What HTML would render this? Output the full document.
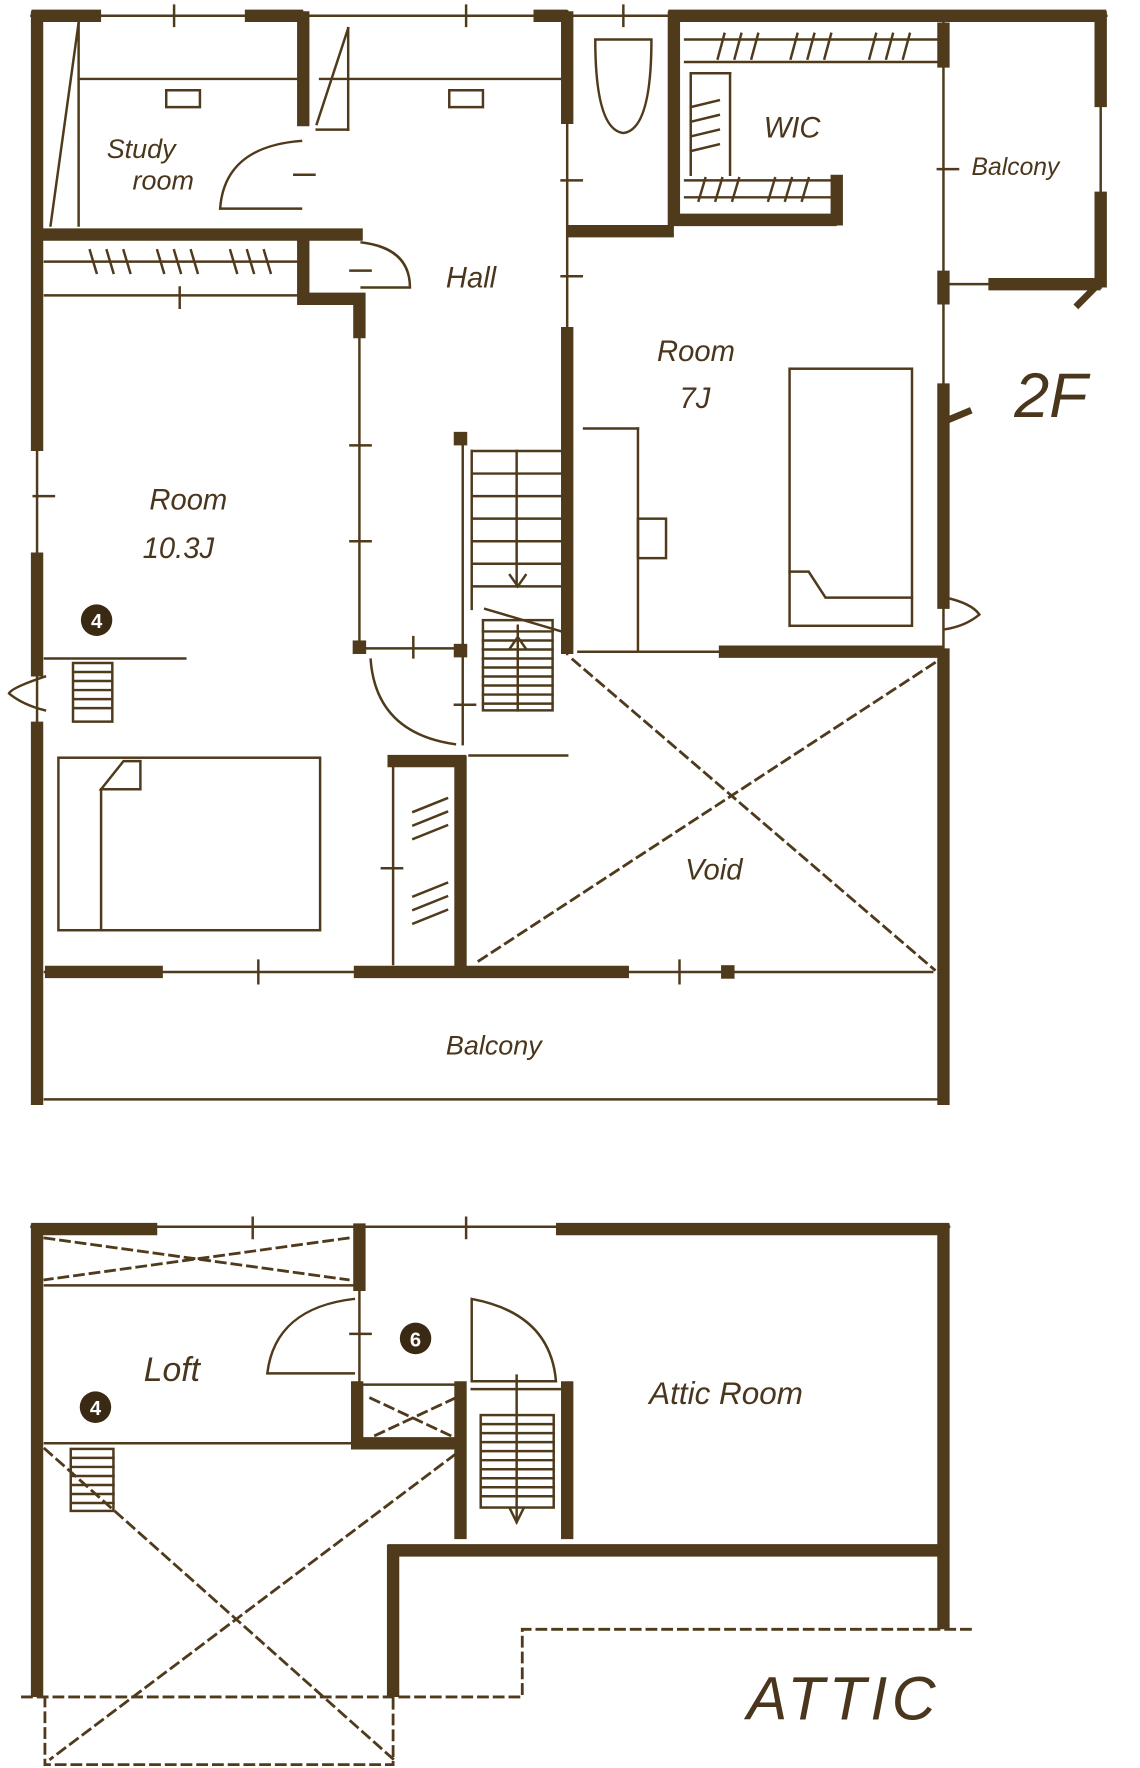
<!DOCTYPE html>
<html><head><meta charset="utf-8"><style>
html,body{margin:0;padding:0;background:#fff;width:1140px;height:1768px;overflow:hidden}
svg{display:block}
text{font-family:"Liberation Sans",sans-serif;font-style:italic;fill:#4a361c}
</style></head><body>
<svg width="1140" height="1768" viewBox="0 0 1015 1568" preserveAspectRatio="none" xmlns="http://www.w3.org/2000/svg">
<g stroke="#4f3a1c" fill="none" stroke-linecap="square">
<g stroke-width="2.2">
<line x1="28" y1="14" x2="985" y2="14"/>
<line x1="840" y1="14" x2="840" y2="575"/>
<line x1="980" y1="14" x2="980" y2="255"/>
<line x1="840" y1="252" x2="980" y2="252"/>
<line x1="33" y1="395" x2="33" y2="495"/>
<line x1="33" y1="595" x2="33" y2="645"/>
<line x1="40" y1="975" x2="840" y2="975"/>
<line x1="40" y1="862" x2="830" y2="862"/>
<line x1="320" y1="265" x2="320" y2="575"/>
<line x1="320" y1="575" x2="410" y2="575"/>
<line x1="505" y1="10" x2="505" y2="580"/>
<line x1="515" y1="578" x2="640" y2="578"/>
<line x1="40" y1="262" x2="270" y2="262"/>
<line x1="40" y1="232" x2="270" y2="232"/>
<line x1="70" y1="70" x2="270" y2="70"/>
<line x1="285" y1="70" x2="500" y2="70"/>
<line x1="70" y1="20" x2="70" y2="200"/>
<line x1="70" y1="20" x2="45" y2="200"/>
<line x1="310" y1="25" x2="310" y2="115"/><line x1="310" y1="25" x2="282" y2="110"/><line x1="282" y1="115" x2="310" y2="115"/>
<line x1="610" y1="35" x2="835" y2="35"/><line x1="610" y1="55" x2="835" y2="55"/>
<line x1="610" y1="160" x2="740" y2="160"/><line x1="610" y1="175" x2="740" y2="175"/>
<line x1="615" y1="65" x2="615" y2="155"/><line x1="650" y1="65" x2="650" y2="155"/><line x1="615" y1="65" x2="650" y2="65"/>
<line x1="412" y1="390" x2="412" y2="660"/>
<line x1="420" y1="400" x2="500" y2="400"/>
<line x1="420" y1="400" x2="420" y2="540"/>
<line x1="460" y1="400" x2="460" y2="520"/>
<line x1="418" y1="670" x2="505" y2="670"/>
<line x1="432" y1="540" x2="500" y2="560"/>
<rect x="430" y="550" width="62" height="80"/>
<line x1="350" y1="680" x2="350" y2="855"/>
<line x1="520" y1="380" x2="568" y2="380"/><line x1="568" y1="380" x2="568" y2="578"/>
<rect x="568" y="460" width="25" height="35"/>
<rect x="52" y="672" width="233" height="153"/>
<line x1="90" y1="700" x2="90" y2="825"/>
<path d="M90 700 L110 675 L125 675 L125 700 Z"/>
<rect x="703" y="327" width="109" height="228"/>
<path d="M703 507 L720 507 L735 530 L812 530"/>
<line x1="40" y1="584" x2="165" y2="584"/>
<rect x="65" y="588" width="35" height="52"/>
<path d="M155 5v18M415 5v18M555 5v18M160 255v18M30 440h18M312 240h18M312 395h18M312 480h18M368 565v18M405 625h18M262 155h18M500 160h18M500 245h18M835 150h18M230 852v20M605 852v20M340 770h18"/>
<path d="M268 125 Q200 130 196 185 L268 185"/>
<path d="M322 215 Q365 220 365 255 L322 255"/>
<path d="M330 585 Q335 650 405 660"/>
<path d="M40 600 Q10 610 8 615 Q20 625 40 630"/>
<path d="M842 530 Q865 535 872 545 Q860 555 842 558"/>
<path d="M530 35 Q530 115 555 118 Q580 115 580 35 Z"/>
<path d="M80 222l6 20M95 222l6 20M110 222l6 20M140 222l6 20M155 222l6 20M170 222l6 20M205 222l6 20M220 222l6 20M235 222l6 20"/>
<path d="M645 30l-6 22M660 30l-6 22M675 30l-6 22M710 30l-6 22M725 30l-6 22M740 30l-6 22M780 30l-6 22M795 30l-6 22M810 30l-6 22"/>
<path d="M628 158l-6 20M643 158l-6 20M658 158l-6 20M690 158l-6 20M705 158l-6 20M720 158l-6 20"/>
<path d="M615 95l25-6M615 108l25-6M615 121l25-6M615 134l25-6"/>
<path d="M368 720l30-12M368 732l30-12M368 744l30-12M368 795l30-12M368 807l30-12M368 819l30-12"/>
<path d="M420 420h80M420 440h80M420 460h80M420 480h80M420 500h80M420 520h80"/>
<path d="M430 560h62M430 568h62M430 576h62M430 584h62M430 592h62M430 600h62M430 608h62M430 616h62M430 624h62"/>
<path d="M461 555v75M454 575l7-10 7 10M454 510l7 10 7-10"/>
<path d="M66 596h34M66 604h34M66 612h34M66 620h34M66 628h34"/>
<path d="M148 80h30v15h-30zM400 80h30v15h-30z"/>
</g>
<path d="M845 372 L862 365" stroke-width="6"/>
<path d="M960 270 L975 255" stroke-width="6"/>
<g stroke-width="11" stroke-linecap="butt">
<path d="M28 14h62M218 14h52M475 14h30M595 14h390"/>
<path d="M33 10v390M33 490v110M33 640v340"/>
<path d="M980 10v85M980 170v85M880 252h100"/>
<path d="M840 575v405M840 340v200M840 20v40M840 240v30"/>
<path d="M40 862h105M315 862h245"/>
<path d="M33 208h290M270 10v102M270 208v57h50v35"/>
<path d="M505 10v100M505 290v290M505 205h95M600 10v190M600 195h145M745 155v45"/>
<path d="M410 670v190M345 675h70"/>
<path d="M640 578h200"/>
</g>
<rect x="404" y="383" width="12" height="12" fill="#4f3a1c" stroke="none"/>
<rect x="314" y="568" width="12" height="12" fill="#4f3a1c" stroke="none"/>
<rect x="404" y="571" width="12" height="12" fill="#4f3a1c" stroke="none"/>
<rect x="642" y="856" width="12" height="12" fill="#4f3a1c" stroke="none"/>
<g stroke-width="2.5" stroke-dasharray="8 6">
<line x1="510" y1="585" x2="832" y2="860"/>
<line x1="832" y1="588" x2="422" y2="855"/>
</g>
<g stroke-width="2.2">
<line x1="28" y1="1088" x2="845" y2="1088"/>
<line x1="40" y1="1140" x2="315" y2="1140"/>
<line x1="40" y1="1280" x2="315" y2="1280"/>
<line x1="320" y1="1145" x2="320" y2="1225"/>
<line x1="320" y1="1228" x2="410" y2="1228"/>
<line x1="420" y1="1232" x2="500" y2="1232"/>
<rect x="428" y="1255" width="65" height="82"/>
<path d="M428 1263h65M428 1271h65M428 1279h65M428 1287h65M428 1295h65M428 1303h65M428 1311h65M428 1319h65M428 1327h65"/>
<path d="M460 1220v130M454 1338l6 12 6-12"/>
<rect x="63" y="1285" width="38" height="55"/>
<path d="M63 1293h38M63 1301h38M63 1309h38M63 1317h38M63 1325h38M63 1333h38"/>
<path d="M315 1152 Q245 1160 238 1218 L315 1218"/>
<path d="M420 1152 Q490 1165 495 1225 L420 1225 Z"/>
<path d="M225 1080v18M415 1080v18M312 1183h18"/>
</g>
<g stroke-width="11" stroke-linecap="butt">
<path d="M28 1090h112M495 1090h350M33 1085v420M840 1085v360M320 1085v60M345 1375h495M350 1370v135M410 1225v140M505 1225v140M318 1225v55h92"/>
</g>
<g stroke-width="2.5" stroke-dasharray="8 6">
<path d="M40 1098L310 1135M310 1098L40 1135"/>
<path d="M330 1240L405 1275M405 1240L330 1275"/>
<path d="M20 1505h445V1445h405"/>
<path d="M40 1505v60h310v-60"/>
<path d="M40 1285L350 1560M405 1290L45 1560"/>
</g>
</g>
<circle cx="86" cy="550" r="14" fill="#3a2a14"/><text x="86" y="557" font-size="18" text-anchor="middle" style="fill:#fff;font-style:normal;font-weight:bold">4</text>
<circle cx="85" cy="1248" r="14" fill="#3a2a14"/><text x="85" y="1255" font-size="18" text-anchor="middle" style="fill:#fff;font-style:normal;font-weight:bold">4</text>
<circle cx="370" cy="1187" r="14" fill="#3a2a14"/><text x="370" y="1194" font-size="18" text-anchor="middle" style="fill:#fff;font-style:normal;font-weight:bold">6</text>
<text x="95" y="140" font-size="24">Study</text>
<text x="118" y="168" font-size="24">room</text>
<text x="397" y="255" font-size="26">Hall</text>
<text x="680" y="122" font-size="26">WIC</text>
<text x="865" y="155" font-size="22">Balcony</text>
<text x="585" y="320" font-size="26">Room</text>
<text x="605" y="362" font-size="26">7J</text>
<text x="133" y="452" font-size="26">Room</text>
<text x="127" y="495" font-size="26">10.3J</text>
<text x="610" y="780" font-size="26">Void</text>
<text x="397" y="935" font-size="24">Balcony</text>
<text x="903" y="370" font-size="56">2F</text>
<text x="128" y="1225" font-size="30">Loft</text>
<text x="578" y="1245" font-size="28">Attic Room</text>
<text x="665" y="1525" font-size="54" letter-spacing="4">ATTIC</text>
</svg>
</body></html>
